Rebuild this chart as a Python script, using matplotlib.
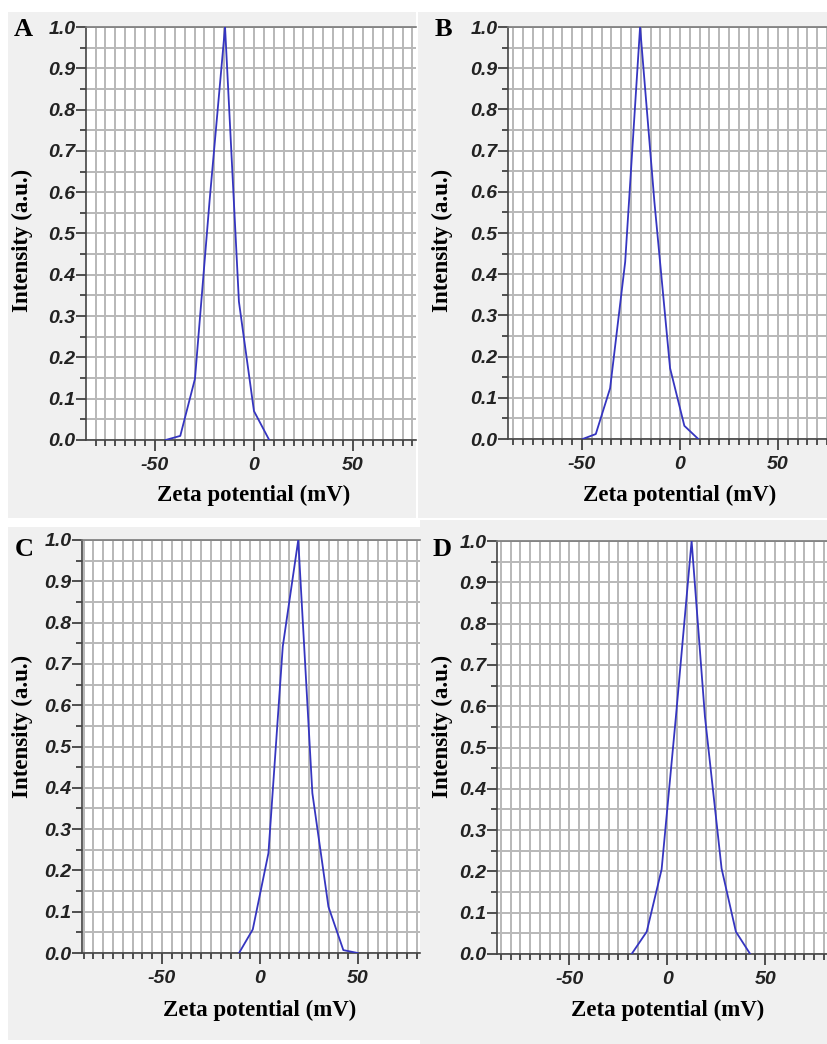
import matplotlib
matplotlib.use("Agg")
import matplotlib.pyplot as plt
from matplotlib.ticker import MultipleLocator, FormatStrFormatter
from matplotlib.patches import Rectangle

plt.rcParams["axes.unicode_minus"] = False

W, H = 828, 1044

# zeta potential distributions
zeta_a = [-44.6, -37.2, -29.8, -22.4, -14.6, -7.6, 0.0, 7.7]
int_a = [0.0, 0.01, 0.148, 0.58, 1.0, 0.335, 0.07, 0.0]

zeta_b = [-49.7, -43.0, -35.7, -28.0, -20.4, -13.1, -5.1, 2.2, 9.3]
int_b = [0.0, 0.012, 0.123, 0.43, 1.0, 0.576, 0.172, 0.032, 0.0]

zeta_c = [-10.7, -3.7, 4.3, 11.6, 19.5, 26.7, 34.9, 42.5, 49.8]
int_c = [0.0, 0.057, 0.242, 0.742, 1.0, 0.387, 0.112, 0.007, 0.0]

zeta_d = [-18.2, -10.5, -2.9, 4.4, 12.4, 19.2, 27.7, 35.0, 42.3]
int_d = [0.0, 0.054, 0.205, 0.575, 1.0, 0.575, 0.207, 0.054, 0.0]

letters = ["A", "B", "C", "D"]
xlims = [(-84.8, 81.8), (-87.8, 75.5), (-90.8, 81.6), (-86.9, 82.0)]

# panel layout in pixels: (left, top, right, bottom) of the axes
boxes = [(86, 27, 416, 440), (508, 27, 828, 439), (82, 540, 420, 953), (497, 541, 828, 954)]
# grey screenshot backgrounds
backs = [(8, 12, 416, 518), (418, 12, 828, 518), (8, 527, 420, 1040), (420, 520, 828, 1044)]
letter_pos = [(23, 29), (443, 29), (24, 549), (442, 549)]
ylab_pos = [(22, 240), (442, 240), (22, 726), (442, 726)]
xlab_y = [495, 495, 1010, 1010]

serif = ["Liberation Serif", "DejaVu Serif"]
sans = ["Liberation Sans", "DejaVu Sans"]

fig = plt.figure(figsize=(W / 100, H / 100), dpi=100)
fig.patch.set_facecolor("white")

for (l, t, r, b) in backs:
    fig.patches.append(Rectangle((l / W, 1 - b / H), (r - l) / W, (b - t) / H,
                                 transform=fig.transFigure, facecolor="#f0f0f0",
                                 edgecolor="none", zorder=-5))

data = [(zeta_a, int_a), (zeta_b, int_b), (zeta_c, int_c), (zeta_d, int_d)]

for i, (xs, ys) in enumerate(data):
    l, t, r, b = boxes[i]
    ax = fig.add_axes([l / W, 1 - b / H, (r - l) / W, (b - t) / H])
    ax.set_facecolor("white")
    ax.plot(xs, ys, color="#3535c0", lw=1.3, zorder=3)
    ax.set_xlim(*xlims[i])
    ax.set_ylim(0, 1.0)

    ax.xaxis.set_major_locator(MultipleLocator(50))
    ax.xaxis.set_minor_locator(MultipleLocator(5))
    ax.yaxis.set_major_locator(MultipleLocator(0.1))
    ax.yaxis.set_minor_locator(MultipleLocator(0.05))
    ax.yaxis.set_major_formatter(FormatStrFormatter("%.1f"))

    ax.set_axisbelow(True)
    ax.grid(which="both", color="#b8b8b8", lw=1.4)

    ax.spines["right"].set_visible(False)
    ax.spines["top"].set_color("#7a7a7a")
    ax.spines["left"].set_color("#444444")
    ax.spines["bottom"].set_color("#444444")
    for s in ax.spines.values():
        s.set_linewidth(1.2)

    ax.tick_params(axis="x", which="major", length=8, width=1.2, color="#333333", pad=4)
    ax.tick_params(axis="x", which="minor", length=4, width=1.2, color="#333333")
    ax.tick_params(axis="y", which="major", length=7, width=1.2, color="#333333", pad=0.5)
    ax.tick_params(axis="y", which="minor", length=4.5, width=1.2, color="#333333")
    for lab in ax.get_xticklabels() + ax.get_yticklabels():
        lab.set_family(sans)
        lab.set_fontweight("bold")
        lab.set_fontstyle("italic")
        lab.set_fontsize(14)
        lab.set_color("#222222")

    # labels placed like in the source screenshots
    zero_px = l + (0 - xlims[i][0]) / (xlims[i][1] - xlims[i][0]) * (r - l)
    fig.text(zero_px / W, 1 - xlab_y[i] / H, "Zeta potential (mV)", family=serif,
             fontweight="bold", fontsize=16.5, ha="center", va="center")
    fig.text(ylab_pos[i][0] / W, 1 - ylab_pos[i][1] / H, "Intensity (a.u.)", family=serif,
             fontweight="bold", fontsize=16.5, ha="center", va="center", rotation=90)
    fig.text(letter_pos[i][0] / W, 1 - letter_pos[i][1] / H, letters[i], family=serif,
             fontweight="bold", fontsize=19, ha="center", va="center")

fig.savefig("out.png", dpi=100, facecolor=fig.get_facecolor())
